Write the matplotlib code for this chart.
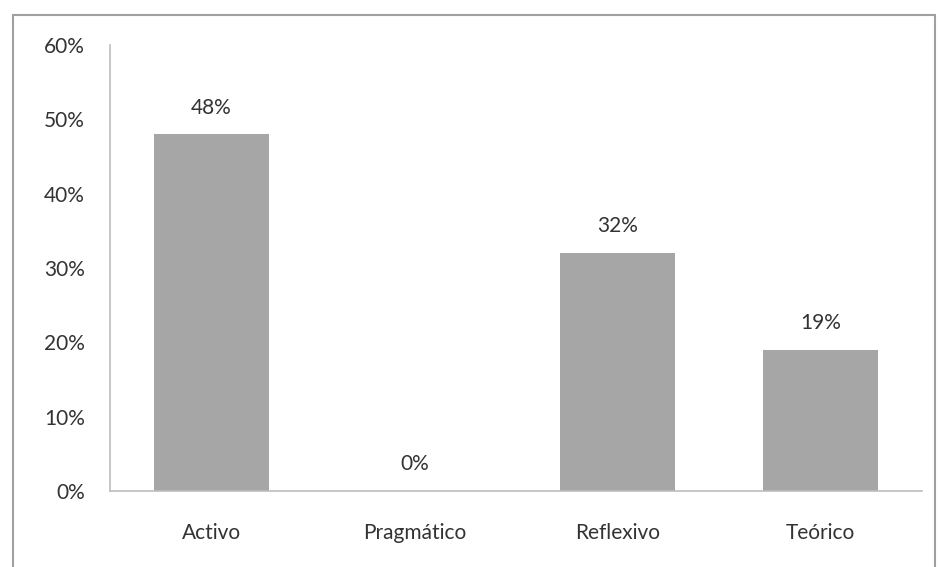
import matplotlib
matplotlib.use("Agg")
import matplotlib.pyplot as plt
from matplotlib.patches import Rectangle
from matplotlib.ticker import FuncFormatter

categories = ["Activo", "Pragmático", "Reflexivo", "Teórico"]
values = [48, 0, 32, 19]
labels = ["48%", "0%", "32%", "19%"]
yticks = [0, 10, 20, 30, 40, 50, 60]

plt.rcParams['font.family'] = ['Lato', 'DejaVu Sans']
W, H = 938, 567
fig = plt.figure(figsize=(W/100, H/100), dpi=100)
ax = fig.add_axes([110/W, 1-491/H, (922-110)/W, (491-45)/H])

FS = 15
TC = "#333333"
x = range(len(categories))
ax.bar(x, values, width=0.565, color="#a6a6a6", zorder=2)
for xi, v, lab in zip(x, values, labels):
    ax.annotate(lab, (xi, v), xytext=(0, 12), textcoords="offset points",
                ha="center", va="bottom", fontsize=FS, color=TC)

ax.set_xlim(-0.5, len(categories)-0.5)
ax.set_ylim(0, 60)
ax.set_yticks(yticks)
ax.yaxis.set_major_formatter(FuncFormatter(lambda v, p: f"{int(v)}%"))
ax.set_xticks(list(x))
ax.set_xticklabels(categories)
ax.tick_params(axis="both", length=0, labelsize=FS, labelcolor=TC)
ax.tick_params(axis="y", pad=18)
ax.tick_params(axis="x", pad=23)
for s in ["top", "right"]:
    ax.spines[s].set_visible(False)
for s in ["left", "bottom"]:
    ax.spines[s].set_color("#bdbdbd")
    ax.spines[s].set_linewidth(1.2)

fig.patches.append(Rectangle((13/W, -0.1), (935-13)/W, 1-15/H+0.1,
                             transform=fig.transFigure, fill=False,
                             edgecolor="#a0a0a0", linewidth=1.5))
fig.savefig("out.png", dpi=100)
